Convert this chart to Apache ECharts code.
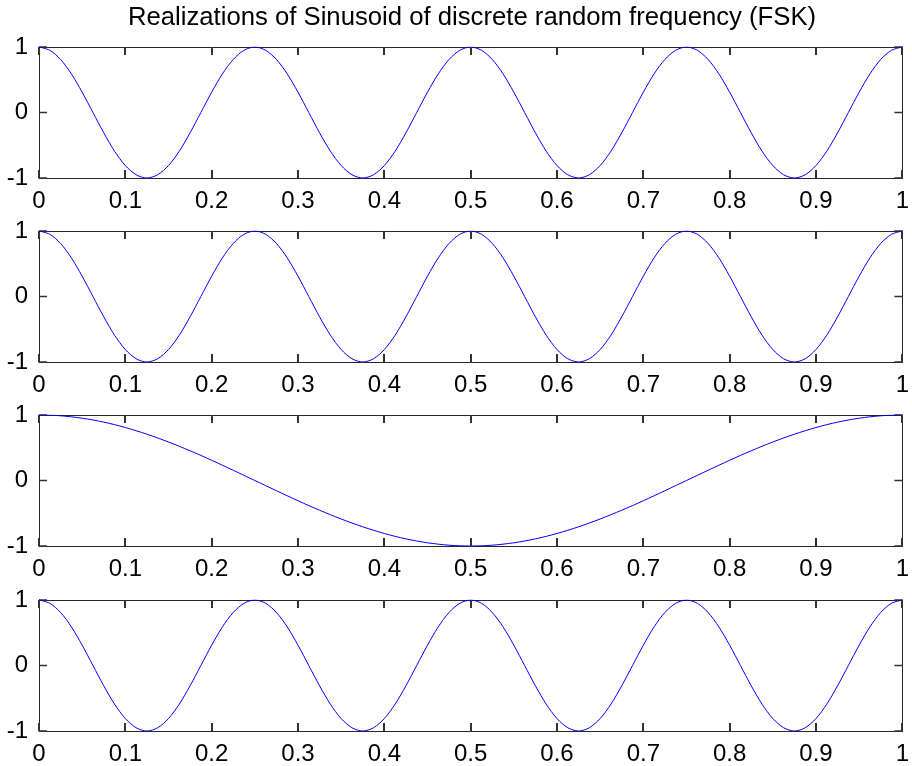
<!DOCTYPE html>
<html>
<head>
<meta charset="utf-8">
<script src="https://cdn.jsdelivr.net/npm/echarts@6/dist/echarts.min.js"></script>
<style>
  html, body { margin: 0; padding: 0; background: #ffffff; }
  #chart { width: 912px; height: 766px; }
</style>
</head>
<body>
<div id="chart"></div>
<script>
// Four realizations of a cosine whose frequency is picked from a discrete set (FSK).
const titleText = 'Realizations of Sinusoid of discrete random frequency (FSK)';

// Sample times (seconds)
const timeValues = [
  0, 0.0125, 0.025, 0.0375, 0.05, 0.0625, 0.075, 0.0875, 0.1, 0.1125,
  0.125, 0.1375, 0.15, 0.1625, 0.175, 0.1875, 0.2, 0.2125, 0.225, 0.2375,
  0.25, 0.2625, 0.275, 0.2875, 0.3, 0.3125, 0.325, 0.3375, 0.35, 0.3625,
  0.375, 0.3875, 0.4, 0.4125, 0.425, 0.4375, 0.45, 0.4625, 0.475, 0.4875,
  0.5, 0.5125, 0.525, 0.5375, 0.55, 0.5625, 0.575, 0.5875, 0.6, 0.6125,
  0.625, 0.6375, 0.65, 0.6625, 0.675, 0.6875, 0.7, 0.7125, 0.725, 0.7375,
  0.75, 0.7625, 0.775, 0.7875, 0.8, 0.8125, 0.825, 0.8375, 0.85, 0.8625,
  0.875, 0.8875, 0.9, 0.9125, 0.925, 0.9375, 0.95, 0.9625, 0.975, 0.9875,
  1
];

// Realization 1: 4 Hz
const realization1 = [
  1, 0.95, 0.81, 0.59, 0.31, 0, -0.31, -0.59, -0.81, -0.95,
  -1, -0.95, -0.81, -0.59, -0.31, 0, 0.31, 0.59, 0.81, 0.95,
  1, 0.95, 0.81, 0.59, 0.31, 0, -0.31, -0.59, -0.81, -0.95,
  -1, -0.95, -0.81, -0.59, -0.31, 0, 0.31, 0.59, 0.81, 0.95,
  1, 0.95, 0.81, 0.59, 0.31, 0, -0.31, -0.59, -0.81, -0.95,
  -1, -0.95, -0.81, -0.59, -0.31, 0, 0.31, 0.59, 0.81, 0.95,
  1, 0.95, 0.81, 0.59, 0.31, 0, -0.31, -0.59, -0.81, -0.95,
  -1, -0.95, -0.81, -0.59, -0.31, 0, 0.31, 0.59, 0.81, 0.95,
  1
];

// Realization 2: 4 Hz
const realization2 = [
  1, 0.95, 0.81, 0.59, 0.31, 0, -0.31, -0.59, -0.81, -0.95,
  -1, -0.95, -0.81, -0.59, -0.31, 0, 0.31, 0.59, 0.81, 0.95,
  1, 0.95, 0.81, 0.59, 0.31, 0, -0.31, -0.59, -0.81, -0.95,
  -1, -0.95, -0.81, -0.59, -0.31, 0, 0.31, 0.59, 0.81, 0.95,
  1, 0.95, 0.81, 0.59, 0.31, 0, -0.31, -0.59, -0.81, -0.95,
  -1, -0.95, -0.81, -0.59, -0.31, 0, 0.31, 0.59, 0.81, 0.95,
  1, 0.95, 0.81, 0.59, 0.31, 0, -0.31, -0.59, -0.81, -0.95,
  -1, -0.95, -0.81, -0.59, -0.31, 0, 0.31, 0.59, 0.81, 0.95,
  1
];

// Realization 3: 1 Hz
const realization3 = [
  1, 0.997, 0.988, 0.972, 0.951, 0.924, 0.891, 0.853, 0.809, 0.76,
  0.707, 0.649, 0.588, 0.522, 0.454, 0.383, 0.309, 0.233, 0.156, 0.078,
  0, -0.078, -0.156, -0.233, -0.309, -0.383, -0.454, -0.522, -0.588, -0.649,
  -0.707, -0.76, -0.809, -0.853, -0.891, -0.924, -0.951, -0.972, -0.988, -0.997,
  -1, -0.997, -0.988, -0.972, -0.951, -0.924, -0.891, -0.853, -0.809, -0.76,
  -0.707, -0.649, -0.588, -0.522, -0.454, -0.383, -0.309, -0.233, -0.156, -0.078,
  0, 0.078, 0.156, 0.233, 0.309, 0.383, 0.454, 0.522, 0.588, 0.649,
  0.707, 0.76, 0.809, 0.853, 0.891, 0.924, 0.951, 0.972, 0.988, 0.997,
  1
];

// Realization 4: 4 Hz
const realization4 = [
  1, 0.95, 0.81, 0.59, 0.31, 0, -0.31, -0.59, -0.81, -0.95,
  -1, -0.95, -0.81, -0.59, -0.31, 0, 0.31, 0.59, 0.81, 0.95,
  1, 0.95, 0.81, 0.59, 0.31, 0, -0.31, -0.59, -0.81, -0.95,
  -1, -0.95, -0.81, -0.59, -0.31, 0, 0.31, 0.59, 0.81, 0.95,
  1, 0.95, 0.81, 0.59, 0.31, 0, -0.31, -0.59, -0.81, -0.95,
  -1, -0.95, -0.81, -0.59, -0.31, 0, 0.31, 0.59, 0.81, 0.95,
  1, 0.95, 0.81, 0.59, 0.31, 0, -0.31, -0.59, -0.81, -0.95,
  -1, -0.95, -0.81, -0.59, -0.31, 0, 0.31, 0.59, 0.81, 0.95,
  1
];

const xTickLabels = ['0', '0.1', '0.2', '0.3', '0.4', '0.5', '0.6', '0.7', '0.8', '0.9', '1'];
const yTickLabels = ['-1', '0', '1'];

const realizations = [realization1, realization2, realization3, realization4];

// Panel layout
const FONT = "'Liberation Sans', Arial, Helvetica, sans-serif";
const AXIS_COLOR = '#262626';
const TICK_COLOR = '#333333';
const TICK_LEN = 8;
const TICK_W = 1.5;
const panelTops = [47, 231, 415, 600];
const panelHeight = 131;
const panelLeft = 39;
const panelRight = 5;

const xTickValues = xTickLabels.map(Number);
const yTickValues = yTickLabels.map(Number);
const X_MIN = xTickValues[0], X_MAX = xTickValues[xTickValues.length - 1];
const Y_MIN = yTickValues[0], Y_MAX = yTickValues[yTickValues.length - 1];

// Tick anchors on the left/right edges, in data coordinates; third field: 2 left, 3 right.
const yTickAnchors = [];
yTickValues.forEach(v => { yTickAnchors.push([X_MIN, v, 2]); yTickAnchors.push([X_MAX, v, 3]); });

// Inward tick marks on the vertical edges.
function renderYTick(params, api) {
  const c = api.coord([api.value(0), api.value(1)]);
  const side = api.value(2);
  const shape = side === 2
    ? { x: c[0], y: c[1] - TICK_W / 2, width: TICK_LEN, height: TICK_W }
    : { x: c[0] - TICK_LEN, y: c[1] - TICK_W / 2, width: TICK_LEN, height: TICK_W };
  return { type: 'rect', shape: shape, style: { fill: TICK_COLOR } };
}

const grids = [];
const xAxes = [];
const yAxes = [];
const series = [];

realizations.forEach((values, i) => {
  grids.push({
    left: panelLeft, right: panelRight,
    top: panelTops[i], height: panelHeight,
    containLabel: false
  });
  xAxes.push({
    type: 'value', gridIndex: i, min: X_MIN, max: X_MAX, interval: 0.1,
    position: 'bottom',
    axisLine: { show: true, onZero: false, lineStyle: { color: AXIS_COLOR, width: 1 } },
    axisTick: { show: false },
    splitLine: { show: false },
    axisLabel: {
      show: true, margin: 11, color: '#000000', fontFamily: FONT, fontSize: 24,
      formatter: v => xTickLabels[Math.round(v * 10)]
    }
  });
  xAxes.push({
    type: 'value', gridIndex: i, min: X_MIN, max: X_MAX, interval: 0.1,
    position: 'top',
    axisLine: { show: true, onZero: false, lineStyle: { color: AXIS_COLOR, width: 1 } },
    axisTick: { show: false },
    splitLine: { show: false },
    axisLabel: { show: false }
  });
  yAxes.push({
    type: 'value', gridIndex: i, min: Y_MIN, max: Y_MAX, interval: 1,
    position: 'left',
    axisLine: { show: true, onZero: false, lineStyle: { color: AXIS_COLOR, width: 1 } },
    axisTick: { show: false },
    splitLine: { show: false },
    axisLabel: {
      show: true, margin: 11, color: '#000000', fontFamily: FONT, fontSize: 24,
      formatter: v => yTickLabels[Math.round(v) + 1]
    }
  });
  yAxes.push({
    type: 'value', gridIndex: i, min: Y_MIN, max: Y_MAX, interval: 1,
    position: 'right',
    axisLine: { show: true, onZero: false, lineStyle: { color: AXIS_COLOR, width: 1 } },
    axisTick: { show: false },
    splitLine: { show: false },
    axisLabel: { show: false }
  });
  series.push({
    type: 'custom',
    xAxisIndex: 2 * i,
    yAxisIndex: 2 * i,
    dimensions: ['x', 'y', 'side'],
    encode: { x: 0, y: 1 },
    data: yTickAnchors,
    renderItem: renderYTick,
    silent: true,
    clip: false,
    animation: false
  });
  series.push({
    type: 'line',
    xAxisIndex: 2 * i,
    yAxisIndex: 2 * i,
    data: timeValues.map((t, k) => [t, values[k]]),
    smooth: 0.3,
    showSymbol: false,
    symbol: 'none',
    lineStyle: { color: '#0000ff', width: 1 },
    z: 3,
    animation: false
  });
});

const chart = echarts.init(document.getElementById('chart'), null, { renderer: 'canvas' });
chart.setOption({
  backgroundColor: '#ffffff',
  animation: false,
  title: {
    text: titleText,
    left: 472,
    top: 5,
    textAlign: 'center',
    padding: 0,
    textStyle: { color: '#000000', fontFamily: FONT, fontSize: 25.7, fontWeight: 'normal' }
  },
  grid: grids,
  xAxis: xAxes,
  yAxis: yAxes,
  series: series
});

// Inward tick marks on the top and bottom edges, placed through each panel's axes.
const xTickMarks = [];
realizations.forEach((values, i) => {
  const finder = { xAxisIndex: 2 * i, yAxisIndex: 2 * i };
  xTickValues.forEach(v => {
    const b = chart.convertToPixel(finder, [v, Y_MIN]);
    const t = chart.convertToPixel(finder, [v, Y_MAX]);
    const x = Math.round(b[0]) - 1;
    xTickMarks.push({
      type: 'rect', silent: true, z: 50,
      shape: { x: x, y: b[1] - TICK_LEN, width: 2, height: TICK_LEN },
      style: { fill: TICK_COLOR }
    });
    xTickMarks.push({
      type: 'rect', silent: true, z: 50,
      shape: { x: x, y: t[1], width: 2, height: TICK_LEN },
      style: { fill: TICK_COLOR }
    });
  });
});
chart.setOption({ graphic: { elements: xTickMarks } });
</script>
</body>
</html>
